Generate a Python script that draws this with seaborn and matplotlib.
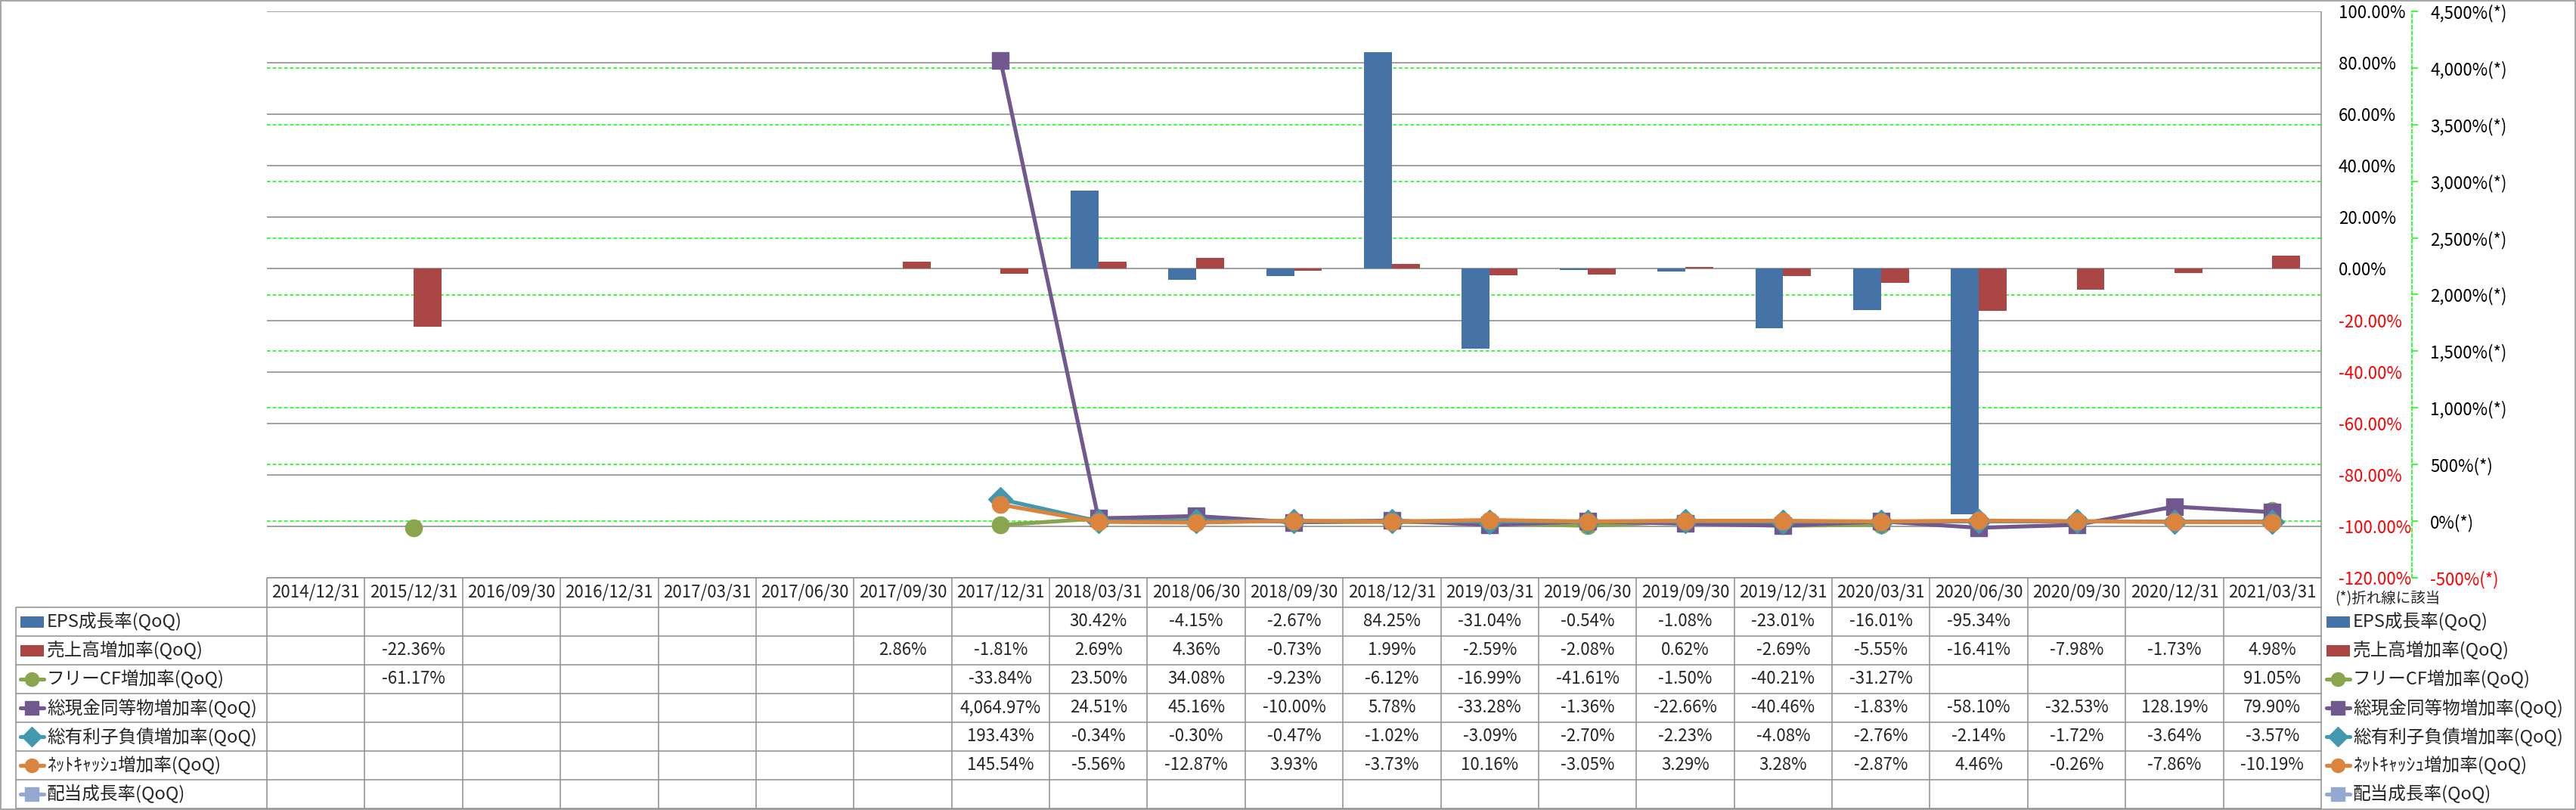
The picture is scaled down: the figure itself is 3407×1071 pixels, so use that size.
import numpy as np
import pandas as pd
import matplotlib
matplotlib.use("Agg")
import matplotlib.pyplot as plt
import seaborn as sns
from matplotlib.lines import Line2D
from matplotlib.patches import Rectangle
from matplotlib.transforms import blended_transform_factory

nan = np.nan

# ---------------- data ----------------
dates = ["2014/12/31", "2015/12/31", "2016/09/30", "2016/12/31", "2017/03/31",
         "2017/06/30", "2017/09/30", "2017/12/31", "2018/03/31", "2018/06/30",
         "2018/09/30", "2018/12/31", "2019/03/31", "2019/06/30", "2019/09/30",
         "2019/12/31", "2020/03/31", "2020/06/30", "2020/09/30", "2020/12/31",
         "2021/03/31"]

eps_growth = [nan, nan, nan, nan, nan, nan, nan, nan, 30.42, -4.15, -2.67, 84.25,
              -31.04, -0.54, -1.08, -23.01, -16.01, -95.34, nan, nan, nan]
sales_growth = [nan, -22.36, nan, nan, nan, nan, 2.86, -1.81, 2.69, 4.36, -0.73, 1.99,
                -2.59, -2.08, 0.62, -2.69, -5.55, -16.41, -7.98, -1.73, 4.98]
fcf_growth = [nan, -61.17, nan, nan, nan, nan, nan, -33.84, 23.50, 34.08, -9.23, -6.12,
              -16.99, -41.61, -1.50, -40.21, -31.27, nan, nan, nan, 91.05]
cash_growth = [nan, nan, nan, nan, nan, nan, nan, 4064.97, 24.51, 45.16, -10.00, 5.78,
               -33.28, -1.36, -22.66, -40.46, -1.83, -58.10, -32.53, 128.19, 79.90]
debt_growth = [nan, nan, nan, nan, nan, nan, nan, 193.43, -0.34, -0.30, -0.47, -1.02,
               -3.09, -2.70, -2.23, -4.08, -2.76, -2.14, -1.72, -3.64, -3.57]
netcash_growth = [nan, nan, nan, nan, nan, nan, nan, 145.54, -5.56, -12.87, 3.93, -3.73,
                  10.16, -3.05, 3.29, 3.28, -2.87, 4.46, -0.26, -7.86, -10.19]
dividend_growth = [nan] * 21

series_names = ["EPS成長率(QoQ)", "売上高増加率(QoQ)", "フリーCF増加率(QoQ)",
                "総現金同等物増加率(QoQ)", "総有利子負債増加率(QoQ)",
                "ﾈｯﾄｷｬｯｼｭ増加率(QoQ)", "配当成長率(QoQ)"]
series_values = [eps_growth, sales_growth, fcf_growth, cash_growth, debt_growth,
                 netcash_growth, dividend_growth]

primary_ticks = list(range(-120, 101, 20))
secondary_ticks = list(range(-500, 4501, 500))
note_text = "(*)折れ線に該当"

# ---------------- style ----------------
colors = ["#4572A7", "#AA4643", "#89A54E", "#71588F", "#4198AF", "#DB843D", "#93A9CF"]
markers = [None, None, "o", "s", "D", "o", "s"]

sns.set_theme(style="white")
plt.rcParams['font.family'] = ['Noto Sans CJK JP', 'DejaVu Sans']
plt.rcParams['axes.unicode_minus'] = False

W, H = 3407, 1071
L, R = 353, 3070        # plot area left/right (px)
T_plot, TB = 15, 764    # plot area top / table top (px)
HH, RH = 39, 38         # header height, row height
rows_top = TB + HH
table_bottom = rows_top + RH * len(series_names)

grid_gray = "#868686"
table_gray = "#8E8E8E"
green = "#00FF00"

fig = plt.figure(figsize=(W / 100, H / 100), dpi=100)
fig.patch.set_facecolor("white")
ax = fig.add_axes([L / W, 1 - TB / H, (R - L) / W, (TB - T_plot) / H])
ax.patch.set_alpha(0)

# ---------------- bars (primary) ----------------
bar_df = pd.DataFrame({
    "date": dates * 2,
    "series": [series_names[0]] * len(dates) + [series_names[1]] * len(dates),
    "value": eps_growth + sales_growth,
})
sns.barplot(data=bar_df, x="date", y="value", hue="series", order=dates,
            hue_order=series_names[:2], palette=colors[:2], width=0.57,
            saturation=1, errorbar=None, legend=False, ax=ax, linewidth=0, zorder=3)

ax.set_xlim(-0.5, len(dates) - 0.5)
ax.set_ylim(primary_ticks[0], primary_ticks[-1])
ax.set_xlabel("")
ax.set_ylabel("")
ax.tick_params(axis="x", bottom=False, labelbottom=False)
for s in ax.spines.values():
    s.set_visible(False)
ax.yaxis.grid(True, color=grid_gray, lw=1.1)
ax.set_axisbelow(True)

# ---------------- lines (secondary) ----------------
ax2 = ax.twinx()
ax2.set_ylim(secondary_ticks[0], secondary_ticks[-1])
xpos = np.arange(len(dates))
for k in range(2, len(series_names)):
    vals = np.array(series_values[k], dtype=float)
    ax2.plot(xpos, vals, color=colors[k], lw=3.75, marker=markers[k], ms=16,
             mfc=colors[k], mec=colors[k], zorder=3)

# green dashed gridlines of the secondary scale, drawn beneath the bars
gtrans = blended_transform_factory(ax.transAxes, ax2.transData)
for v in secondary_ticks[1:-1]:
    ax.add_line(Line2D([0, 1], [v, v], transform=gtrans, color=green, lw=1.1,
                       linestyle=(0, (3, 2)), zorder=1))

ax2.set_xlim(-0.5, len(dates) - 0.5)
ax2.tick_params(axis="x", bottom=False, labelbottom=False, top=False)
for name in ["left", "top", "bottom"]:
    ax2.spines[name].set_visible(False)
ax2.spines["right"].set_position(("outward", (3190 - R) * 0.72))
ax2.spines["right"].set_color(green)
ax2.spines["right"].set_linestyle((0, (3, 2)))
ax2.spines["right"].set_linewidth(1.1)
ax2.grid(False)
ax2.set_yticks(secondary_ticks, labels=[f"{v:,}%(*)" for v in secondary_ticks])
ax2.tick_params(axis="y", colors=green, length=5.8, width=1.1, direction="out",
                pad=11.5, labelsize=16, labelcolor="black")
for lab, v in zip(ax2.get_yticklabels(), secondary_ticks):
    lab.set_color("red" if v < 0 else "black")

ax.yaxis.tick_right()
ax.set_yticks(primary_ticks, labels=[f"{v:.2f}%" for v in primary_ticks])
ax.tick_params(axis="y", length=0, pad=16.5, labelsize=16)
for lab, v in zip(ax.get_yticklabels(), primary_ticks):
    lab.set_color("red" if v < 0 else "black")

# ---------------- data table & legends (overlay in pixels) ----------------
ov = fig.add_axes([0, 0, 1, 1], zorder=5)
ov.set_xlim(0, W)
ov.set_ylim(H, 0)
ov.axis("off")
ov.patch.set_alpha(0)

cw = (R - L) / len(dates)
lkw = dict(color=table_gray, lw=1.1, solid_capstyle="butt")
ov.plot([L, R], [TB, TB], **lkw)
for k in range(len(series_names) + 1):
    y = rows_top + RH * k
    ov.plot([21, R], [y, y], **lkw)
ov.plot([21, 21], [rows_top, table_bottom], **lkw)
for i in range(len(dates)):
    x = L + i * cw
    ov.plot([x, x], [TB, table_bottom], **lkw)
ov.plot([R, R], [T_plot, table_bottom], **lkw)

for i, d in enumerate(dates):
    ov.text(L + (i + 0.5) * cw, TB + HH / 2, d, ha="center", va="center", fontsize=16)


def fmt(v):
    return f"{v:,.2f}%"


for k, vals in enumerate(series_values):
    yc = rows_top + RH * k + RH / 2
    for i, v in enumerate(vals):
        if not np.isnan(v):
            ov.text(L + (i + 0.5) * cw, yc, fmt(v), ha="center", va="center", fontsize=16)


def glyph(x0, x1, yc, k):
    if markers[k] is None:
        ov.add_patch(Rectangle((x0, yc - 7.5), x1 - x0, 15, color=colors[k], lw=0))
    else:
        ov.plot([x0, x1], [yc, yc], color=colors[k], lw=3.75, solid_capstyle="round")
        ov.plot([(x0 + x1) / 2], [yc], marker=markers[k], ms=13, color=colors[k],
                mec=colors[k])


for k, name in enumerate(series_names):
    yc = rows_top + RH * k + RH / 2
    glyph(27, 58, yc, k)
    ov.text(62, yc, name, ha="left", va="center", fontsize=17)
    glyph(3077, 3108, yc, k)
    ov.text(3112, yc, name, ha="left", va="center", fontsize=17)

ov.text(3088, 792, note_text, ha="left", va="center", fontsize=14)

ov.add_patch(Rectangle((0.5, 0.5), W - 1.5, H - 1.5, fill=False, ec=table_gray, lw=1.1,
                       clip_on=False))

fig.savefig("out.png", dpi=100)
